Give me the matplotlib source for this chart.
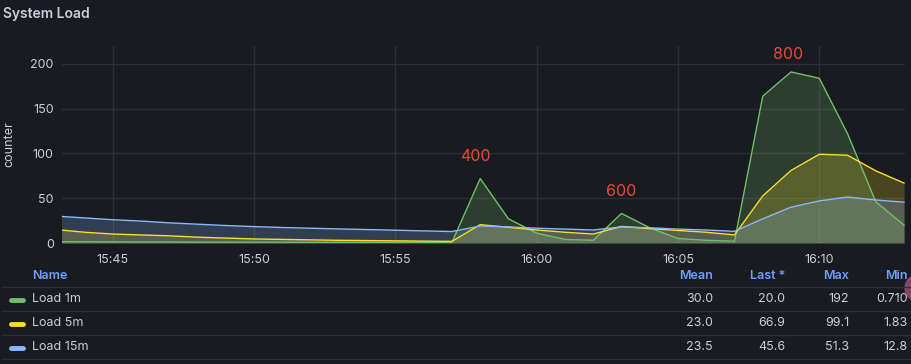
import matplotlib
matplotlib.use('Agg')
import matplotlib.pyplot as plt
import matplotlib.dates as mdates
from matplotlib.patches import Ellipse
from datetime import datetime, timedelta

# one sample per minute, 15:43 .. 16:13
start = datetime(2024, 1, 1, 15, 43)
times = [start + timedelta(minutes=i) for i in range(31)]

load_1m = [1.5, 1.4, 1.3, 1.2, 1.1, 1.0, 1.0, 0.9, 0.9, 0.8, 0.8, 0.8, 0.75, 0.72, 0.71,
           72, 27, 11, 4, 3, 33, 17, 5, 3, 2,
           164, 191, 184, 122, 46, 20]
load_5m = [15, 12, 10, 9, 8, 6.5, 5.5, 4.5, 4, 3.5, 3, 2.7, 2.4, 2.1, 1.83,
           20.5, 17.5, 14.5, 12, 10, 18.5, 16, 14, 12, 9,
           52.6, 81, 99.1, 98, 80.6, 66.9]
load_15m = [30, 28, 26, 24.5, 22.5, 21, 19.5, 18.3, 17.3, 16.5, 15.7, 15, 14.3, 13.5, 12.8,
            19, 18, 16.5, 15.5, 14.5, 18, 17, 15.5, 14.5, 13,
            27, 40, 47, 51.3, 48, 45.6]

series_names = ['Load 1m', 'Load 5m', 'Load 15m']
series_colors = ['#73BF69', '#FADE2A', '#8AB8FF']

# annotation labels (time, value, text)
annot_times = [datetime(2024, 1, 1, 15, 57, 50), datetime(2024, 1, 1, 16, 3), datetime(2024, 1, 1, 16, 8, 54)]
annot_values = [97, 58, 210]
annot_texts = ['400', '600', '800']

# legend table
table_cols = ['Mean', 'Last *', 'Max', 'Min']
table_rows = [['30.0', '20.0', '192', '0.710'],
              ['23.0', '66.9', '99.1', '1.83'],
              ['23.5', '45.6', '51.3', '12.8']]

bg = '#181b1f'
txt = '#ccccdc'
grid = '#2c2f34'
head = '#6e9fff'

plt.rcParams['font.family'] = ['Inter', 'DejaVu Sans']

W, H = 911, 364
fig = plt.figure(figsize=(W / 100, H / 100), dpi=100, facecolor=bg)

def fx(px):
    return px / W

def fy(py):
    return 1 - py / H

ax = fig.add_axes([fx(62), fy(243), fx(905) - fx(62), fy(46) - fy(243)])
ax.set_facecolor(bg)

for vals, color in zip([load_1m, load_5m, load_15m], series_colors):
    ax.fill_between(times, vals, 0, color=color, alpha=0.22, linewidth=0)
    ax.plot(times, vals, color=color, linewidth=1)

for t, v, s in zip(annot_times, annot_values, annot_texts):
    ax.text(t, v, s, color='#F2453D', fontsize=11.5, ha='center', va='center')

ax.set_xlim(datetime(2024, 1, 1, 15, 43, 12), datetime(2024, 1, 1, 16, 13, 2))
ax.set_ylim(0, 220)
ax.set_yticks([0, 50, 100, 150, 200])
ax.xaxis.set_major_locator(mdates.MinuteLocator(byminute=range(0, 60, 5)))
ax.xaxis.set_major_formatter(mdates.DateFormatter('%H:%M'))
ax.grid(True, color=grid, linewidth=1)
ax.set_axisbelow(True)
for sp in ax.spines.values():
    sp.set_visible(False)
ax.tick_params(axis='both', length=0, colors=txt, labelsize=9)
ax.tick_params(axis='y', pad=6)
ax.tick_params(axis='x', pad=8)
ax.set_ylabel('counter', color=txt, fontsize=9, labelpad=11)

fig.text(fx(3), fy(14), 'System Load', color=txt, fontsize=10, fontweight='semibold',
         ha='left', va='center')

# legend table
col_right = [713, 785, 849, 908]
fig.text(fx(32), fy(276), 'Name', color=head, fontsize=9, fontweight='semibold', va='center')
for x, c in zip(col_right, table_cols):
    fig.text(fx(x), fy(276), c, color=head, fontsize=9, fontweight='semibold', ha='right', va='center')

for py in [287, 311, 335, 359]:
    fig.add_artist(plt.Line2D([fx(2), 1], [fy(py), fy(py)], color=grid, linewidth=1))

for i, (name, color, row) in enumerate(zip(series_names, series_colors, table_rows)):
    py = 299 + i * 24
    fig.add_artist(plt.Line2D([fx(11), fx(23)], [fy(py + 1), fy(py + 1)], color=color,
                              linewidth=3.5, solid_capstyle='round'))
    fig.text(fx(32), fy(py), name, color=txt, fontsize=9, va='center')
    for x, v in zip(col_right, row):
        fig.text(fx(x), fy(py), v, color=txt, fontsize=9, ha='right', va='center')

# cursor highlight at the right edge
fig.add_artist(Ellipse((fx(918), fy(288)), fx(26), 26 / H, color='#8f4d6c', alpha=0.9))

fig.savefig('out.png', dpi=100, facecolor=bg)
